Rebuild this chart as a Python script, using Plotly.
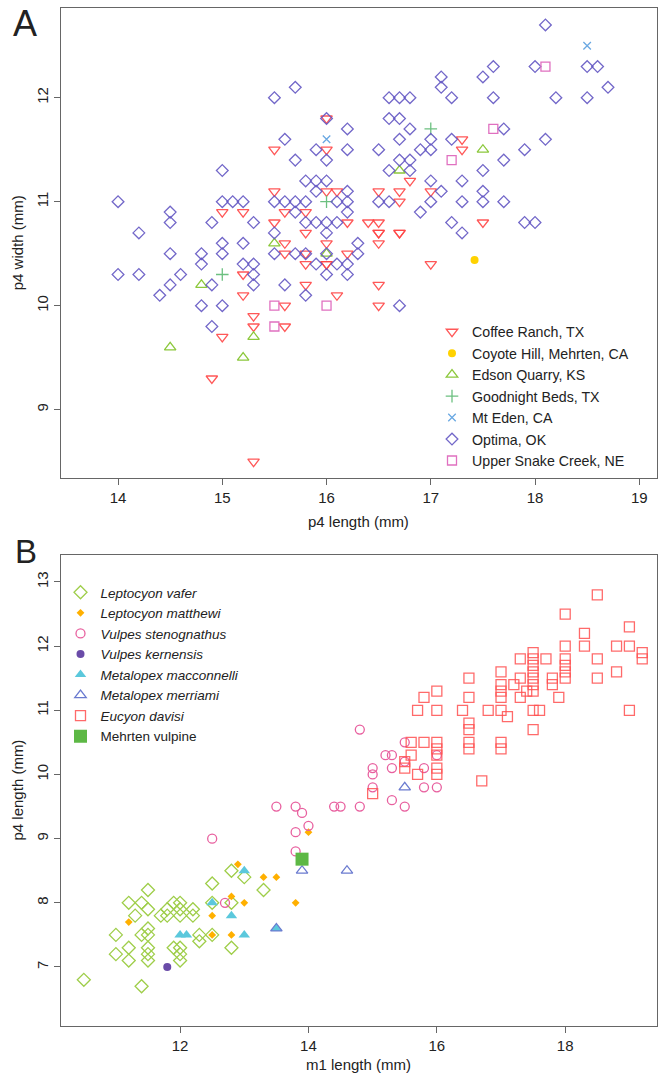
import plotly.graph_objects as go

# ---------------- Panel A data (p4 length vs p4 width) ----------------
coffee_x = [15.5, 15.0, 15.2, 15.6, 15.8, 15.5, 15.5, 15.8, 16.0, 16.0, 16.0, 16.0, 15.6,
            17.3, 17.3, 16.8, 16.5, 16.7, 17.0, 16.7, 16.1, 16.2, 16.4, 16.5, 17.5, 16.5, 16.7,
            16.5, 16.2, 16.0, 17.0, 16.5, 16.1, 16.5, 15.2, 15.2, 15.3, 15.3, 15.0, 14.9, 15.3,
            15.6, 15.8, 15.8, 15.8, 15.6, 15.6, 16.0, 16.5, 16.7]
coffee_y = [11.5, 10.9, 10.9, 10.9, 10.9, 11.1, 10.8, 10.7, 11.8, 11.5, 11.1, 10.6, 10.6,
            11.6, 11.5, 11.2, 11.1, 11.1, 11.1, 11.0, 11.1, 10.8, 10.8, 10.8, 10.8, 10.7, 10.7,
            10.6, 10.5, 10.4, 10.4, 10.2, 10.1, 10.0, 10.3, 10.1, 9.9, 9.8, 9.7, 9.3, 8.5,
            10.5, 10.5, 10.4, 10.2, 10.0, 9.8, 10.4, 10.7, 10.7]
coyote_x = [17.42]
coyote_y = [10.44]
edson_x = [17.5, 16.7, 16.0, 15.5, 14.8, 14.5, 15.2, 15.3]
edson_y = [11.5, 11.3, 10.5, 10.6, 10.2, 9.6, 9.5, 9.7]
goodnight_x = [17.0, 16.0, 15.0]
goodnight_y = [11.7, 11.0, 10.3]
mteden_x = [18.5, 16.0]
mteden_y = [12.5, 11.6]
optima_x = [14.0, 14.2, 14.5, 14.5, 14.9, 15.0, 15.0, 15.1, 15.2, 15.3, 15.0, 15.2,
            14.0, 14.2, 14.5, 14.4, 14.5, 14.6, 14.8, 14.8, 14.9, 14.8, 15.0, 14.9, 15.0,
            15.2, 15.3, 15.3, 15.3,
            15.5, 15.7, 15.6, 15.7, 15.9, 15.8, 15.9, 16.0, 15.9, 15.5, 15.6, 15.7, 15.8,
            15.7, 15.8, 15.9, 16.0, 16.1, 15.5, 16.0, 16.0, 16.0, 15.5, 15.7, 15.8, 15.9,
            16.1, 15.6, 15.8, 16.0, 16.0,
            18.1, 18.0, 18.5, 18.6, 18.7, 18.2, 18.5, 17.6, 17.5, 17.1, 17.1, 17.2, 17.6,
            16.6, 16.7, 16.8, 16.6, 16.7, 16.8, 16.2, 16.2, 16.5, 16.7, 16.9, 17.0, 17.0,
            17.2, 17.7, 18.1, 17.9, 17.7, 17.5, 16.7, 16.8, 16.6, 16.8, 17.0, 17.3, 17.5,
            17.5, 17.7, 17.3, 17.1, 17.0, 16.9, 16.5, 16.6, 16.2, 16.2, 16.2, 16.1, 17.2,
            17.3, 17.9, 18.0, 16.3, 16.3, 16.2, 16.2, 16.7]
optima_y = [11.0, 10.7, 10.9, 10.8, 10.8, 11.3, 11.0, 11.0, 11.0, 10.8, 10.6, 10.6,
            10.3, 10.3, 10.5, 10.1, 10.2, 10.3, 10.5, 10.4, 10.2, 10.0, 10.0, 9.8, 10.5,
            10.4, 10.4, 10.3, 10.2,
            12.0, 12.1, 11.6, 11.4, 11.5, 11.2, 11.2, 11.2, 11.1, 11.0, 11.0, 11.0, 11.0,
            10.9, 10.8, 10.8, 10.8, 10.8, 10.7, 10.7, 11.8, 11.4, 10.5, 10.5, 10.5, 10.4,
            10.4, 10.2, 10.1, 10.3, 10.5,
            12.7, 12.3, 12.3, 12.3, 12.1, 12.0, 12.0, 12.3, 12.2, 12.2, 12.1, 12.0, 12.0,
            12.0, 12.0, 12.0, 11.8, 11.8, 11.7, 11.7, 11.5, 11.5, 11.6, 11.5, 11.6, 11.5,
            11.6, 11.7, 11.6, 11.5, 11.4, 11.3, 11.4, 11.4, 11.3, 11.3, 11.2, 11.2, 11.1,
            11.0, 11.0, 11.0, 11.1, 11.0, 10.9, 11.0, 11.0, 11.1, 11.0, 10.9, 11.0, 10.8,
            10.7, 10.8, 10.8, 10.6, 10.5, 10.4, 10.3, 10.0]
snake_x = [18.1, 17.6, 17.2, 16.0, 15.5, 15.5]
snake_y = [12.3, 11.7, 11.4, 10.0, 10.0, 9.8]

# ---------------- Panel B data (m1 length vs p4 length) ----------------
vafer_x = [10.5, 11.4, 11.0, 11.0, 11.2, 11.2, 11.2, 11.3, 11.4, 11.4, 11.5, 11.5, 11.5,
           11.5, 11.5, 11.5, 11.5, 11.7, 11.8, 11.8, 11.9, 12.0, 12.0, 12.0, 11.9, 12.0,
           12.0, 12.0, 12.2, 12.2, 12.3, 12.3, 12.5, 12.5, 12.5, 12.8, 12.8, 12.8, 13.0, 13.3]
vafer_y = [6.8, 6.7, 7.5, 7.2, 7.3, 7.1, 8.0, 7.8, 8.0, 7.5, 8.2, 7.9, 7.6,
           7.5, 7.3, 7.2, 7.1, 7.8, 7.9, 7.8, 8.0, 8.0, 7.9, 7.8, 7.3, 7.3,
           7.2, 7.1, 7.9, 7.8, 7.5, 7.4, 8.3, 8.0, 7.5, 8.5, 8.0, 7.3, 8.4, 8.2]
matthewi_x = [11.2, 12.5, 12.5, 12.8, 12.8, 12.9, 13.0, 13.3, 13.5, 13.8, 14.0]
matthewi_y = [7.7, 7.8, 7.5, 8.1, 7.5, 8.6, 8.0, 8.4, 8.4, 8.0, 9.1]
steno_x = [12.5, 12.7, 13.5, 13.8, 13.9, 13.8, 14.0, 13.8, 14.4, 14.5, 14.8, 15.0, 15.3,
           15.5, 15.8, 16.0, 14.8, 15.5, 15.2, 15.3, 15.0, 15.0, 15.3, 15.5, 15.8, 16.0]
steno_y = [9.0, 8.0, 9.5, 9.5, 9.4, 9.1, 9.2, 8.8, 9.5, 9.5, 9.5, 9.8, 9.6,
           9.5, 9.8, 9.8, 10.7, 10.5, 10.3, 10.3, 10.1, 10.0, 10.1, 10.2, 10.1, 10.3]
kernensis_x = [11.8]
kernensis_y = [7.0]
macconnelli_x = [12.0, 12.1, 12.5, 12.8, 13.0, 13.0, 13.5]
macconnelli_y = [7.5, 7.5, 8.0, 7.8, 8.5, 7.5, 7.6]
merriami_x = [13.5, 13.9, 14.6, 15.5]
merriami_y = [7.6, 8.5, 8.5, 9.8]
davisi_x = [18.5, 18.0, 18.3, 19.0, 18.0, 18.3, 18.8, 19.0, 19.2, 19.2,
            17.5, 17.5, 17.5, 17.5, 17.5, 17.5, 17.5, 17.5, 17.5,
            17.3, 17.3, 17.3, 17.7, 18.0, 18.0, 18.0, 18.0, 18.5, 18.5, 18.8,
            17.0, 17.0, 17.0, 17.0, 17.0, 17.0, 17.0,
            16.5, 16.5, 16.5, 16.5, 16.5, 16.5,
            17.2, 17.4, 17.8, 17.8, 17.9,
            16.0, 16.0, 16.0, 16.0, 16.0, 16.0, 16.0,
            15.8, 15.8, 15.7, 15.7, 16.4, 16.8, 17.1, 17.6, 19.0,
            15.6, 15.6, 15.5, 15.5, 16.7, 15.0]
davisi_y = [12.8, 12.5, 12.2, 12.3, 12.0, 12.0, 12.0, 12.0, 11.9, 11.8,
            11.9, 11.8, 11.7, 11.6, 11.5, 11.4, 11.3, 11.0, 10.7,
            11.8, 11.5, 11.2, 11.8, 11.8, 11.7, 11.6, 11.5, 11.8, 11.5, 11.6,
            11.6, 11.4, 11.3, 11.2, 11.0, 10.5, 10.4,
            11.5, 11.2, 10.8, 10.7, 10.5, 10.4,
            11.4, 11.3, 11.5, 11.4, 11.2,
            11.3, 11.0, 10.5, 10.4, 10.3, 10.1, 10.0,
            11.2, 10.5, 11.0, 10.0, 11.0, 11.0, 10.9, 11.0, 11.0,
            10.5, 10.3, 10.2, 10.1, 9.9, 9.7]
mehrten_x = [13.9]
mehrten_y = [8.68]

# ---------------- figure ----------------
W, H = 660, 1076
FONT = "Liberation Sans, Arial, Helvetica, sans-serif"

def px_x(p):
    return p / W

def px_y(p):
    return 1 - p / H

A_left, A_right, A_top, A_bot = 60.7, 657, 8.3, 478.3
B_left, B_right, B_top, B_bot = 60.7, 657, 555, 1026

fig = go.Figure()

def add(x, y, name, symbol, color, size, xa, ya, legend, lw=1.3):
    fig.add_trace(go.Scatter(
        x=x, y=y, mode="markers", name=name, xaxis=xa, yaxis=ya, legend=legend,
        marker=dict(symbol=symbol, color=color, size=size, line=dict(width=lw, color=color)),
        hoverinfo="x+y+name"))

add(coffee_x, coffee_y, "Coffee Ranch, TX", "triangle-down-open", "rgba(255,70,70,0.9)", 10, "x", "y", "legend")
add(coyote_x, coyote_y, "Coyote Hill, Mehrten, CA", "circle", "#FFD200", 8, "x", "y", "legend", lw=0)
add(edson_x, edson_y, "Edson Quarry, KS", "triangle-up-open", "#8CC83C", 10, "x", "y", "legend")
add(goodnight_x, goodnight_y, "Goodnight Beds, TX", "cross-thin-open", "#6CC080", 9, "x", "y", "legend")
add(mteden_x, mteden_y, "Mt Eden, CA", "x-thin-open", "#6AA8E2", 7.5, "x", "y", "legend")
add(optima_x, optima_y, "Optima, OK", "diamond-open", "rgba(100,88,195,0.9)", 9, "x", "y", "legend")
add(snake_x, snake_y, "Upper Snake Creek, NE", "square-open", "#E070C0", 9, "x", "y", "legend")

add(vafer_x, vafer_y, "<i>Leptocyon vafer</i>", "diamond-open", "#9FCE4A", 10, "x2", "y2", "legend2")
add(matthewi_x, matthewi_y, "<i>Leptocyon matthewi</i>", "diamond", "#FFB000", 6, "x2", "y2", "legend2", lw=0)
add(steno_x, steno_y, "<i>Vulpes stenognathus</i>", "circle-open", "#E8609F", 9, "x2", "y2", "legend2")
add(kernensis_x, kernensis_y, "<i>Vulpes kernensis</i>", "circle", "#6A4BA8", 8, "x2", "y2", "legend2", lw=0)
add(macconnelli_x, macconnelli_y, "<i>Metalopex macconnelli</i>", "triangle-up", "#5BC8DC", 10, "x2", "y2", "legend2", lw=0)
add(merriami_x, merriami_y, "<i>Metalopex merriami</i>", "triangle-up-open", "#6B7BD0", 10, "x2", "y2", "legend2")
add(davisi_x, davisi_y, "<i>Eucyon davisi</i>", "square-open", "rgba(255,80,80,0.85)", 10, "x2", "y2", "legend2")
add(mehrten_x, mehrten_y, "Mehrten vulpine", "square", "#5DB845", 13, "x2", "y2", "legend2", lw=0)

axis_common = dict(showgrid=False, zeroline=False, showline=True, mirror=True,
                   linecolor="#666", linewidth=1.3, ticks="outside", ticklen=6,
                   tickcolor="#666", tickwidth=1.2,
                   tickfont=dict(family=FONT, size=15, color="#222"))

fig.update_layout(
    width=W, height=H, margin=dict(l=0, r=0, t=0, b=0),
    paper_bgcolor="white", plot_bgcolor="white",
    font=dict(family=FONT, color="#222"),
    xaxis=dict(domain=[px_x(A_left), px_x(A_right)], range=[13.45, 19.17],
               tickvals=[14, 15, 16, 17, 18, 19], anchor="y", **axis_common),
    yaxis=dict(domain=[px_y(A_bot), px_y(A_top)], range=[8.34, 12.86],
               tickvals=[9, 10, 11, 12], tickangle=-90, anchor="x", **axis_common),
    xaxis2=dict(domain=[px_x(B_left), px_x(B_right)], range=[10.14, 19.43],
                tickvals=[12, 14, 16, 18], anchor="y2", **axis_common),
    yaxis2=dict(domain=[px_y(B_bot), px_y(B_top)], range=[6.08, 13.42],
                tickvals=[7, 8, 9, 10, 11, 12, 13], tickangle=-90, anchor="x2", **axis_common),
    legend=dict(x=px_x(432), y=px_y(316), xanchor="left", yanchor="top",
                bgcolor="rgba(255,255,255,0)", font=dict(family=FONT, size=14.2, color="#222"),
                tracegroupgap=0, itemsizing="trace"),
    legend2=dict(x=px_x(60.5), y=px_y(577), xanchor="left", yanchor="top",
                 bgcolor="rgba(255,255,255,0)", font=dict(family=FONT, size=13.5, color="#222"),
                 tracegroupgap=0, itemsizing="trace"),
    showlegend=True,
)

ann = []
def text(x, y, s, size=15, angle=0, **kw):
    ann.append(dict(x=px_x(x), y=px_y(y), xref="paper", yref="paper", text=s, showarrow=False,
                    textangle=angle, font=dict(family=FONT, size=size, color="#222"),
                    xanchor="center", yanchor="middle", **kw))

text(25, 24, "A", size=36)
text(26, 551, "B", size=33)
text((A_left + A_right) / 2, 521, "p4 length (mm)")
text(17, (A_top + A_bot) / 2, "p4 width (mm)", angle=-90)
text((B_left + B_right) / 2, 1064, "m1 length (mm)")
text(17, (B_top + B_bot) / 2, "p4 length (mm)", angle=-90)
fig.update_layout(annotations=ann)

fig.write_html("out.html",
               config={"displayModeBar": False},
               post_script="document.body.style.margin='0px';document.body.style.padding='0px';"
                           "document.documentElement.style.overflow='hidden';")
